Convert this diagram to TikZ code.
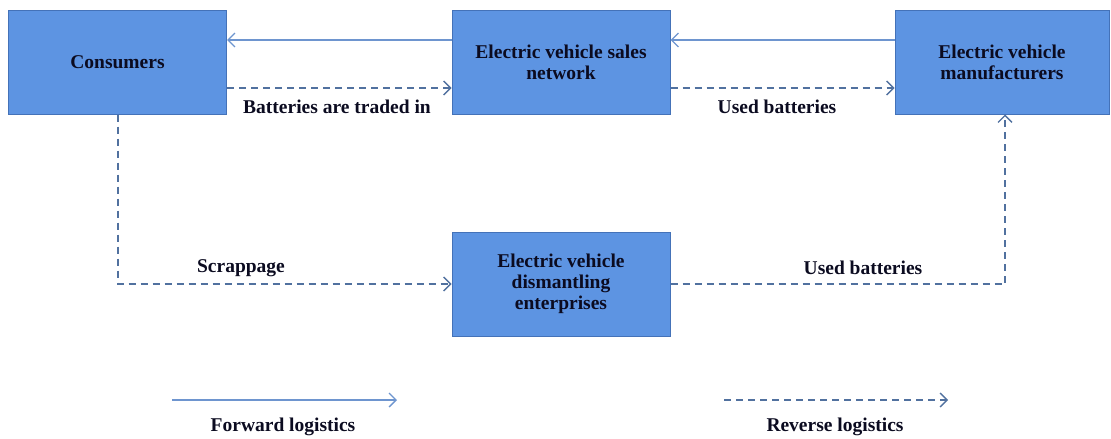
\documentclass[tikz,border=0pt]{standalone}
\usepackage{fontspec}
\setmainfont{Liberation Serif}
\usetikzlibrary{arrows.meta}
\definecolor{boxfill}{HTML}{5D94E2}
\definecolor{boxline}{HTML}{4472B8}
\definecolor{fwd}{HTML}{6E95CF}
\definecolor{rev}{HTML}{51719F}
\definecolor{txt}{HTML}{0B0B20}
\begin{document}
\begin{tikzpicture}[x=1pt,y=-1pt,
  box/.style={draw=boxline,line width=1pt,fill=boxfill,minimum width=218pt,minimum height=104pt,
    align=center,font=\fontsize{19.5}{21}\selectfont\bfseries,text=txt,inner sep=0pt},
  lbl/.style={font=\fontsize{19.5}{21}\selectfont\bfseries,text=txt,inner sep=0pt},
  fwdarrow/.style={draw=fwd,line width=1.3pt,-{Straight Barb[length=7pt,width=14pt]}},
  revarrow/.style={draw=rev,line width=1.3pt,dash pattern=on 7pt off 5pt,-{Straight Barb[length=7pt,width=14pt]}}]
\useasboundingbox (0,0) rectangle (1111,439);
\node[box] (cons) at (117.5,62) {Consumers};
\node[box] (sales) at (561,62) {Electric vehicle sales\\network};
\node[box,minimum width=214pt] (manu) at (1002,62) {Electric vehicle\\manufacturers};
\node[box] (dism) at (561,284) {Electric vehicle\\dismantling\\enterprises};
\draw[fwdarrow] (sales.west |- 0,40) -- (cons.east |- 0,40);
\draw[fwdarrow] (manu.west |- 0,40) -- (sales.east |- 0,40);
\draw[revarrow] (cons.east |- 0,88) -- (sales.west |- 0,88);
\draw[revarrow] (sales.east |- 0,88) -- (manu.west |- 0,88);
\draw[revarrow] (cons.south -| 118,0) -- (118,284) -- (dism.west);
\draw[revarrow] (dism.east) -- (1005,284) -- (manu.south -| 1005,0);
\node[lbl] (l1) at (337,107) {Batteries are traded in};
\node[lbl] (l2) at (777,107) {Used batteries};
\node[lbl] (l3) at (241,268) {Scrappage};
\node[lbl] (l4) at (863,268) {Used batteries};
\coordinate (fa) at (172,400);
\coordinate (fb) at (397,400);
\coordinate (ra) at (724,400);
\coordinate (rb) at (948,400);
\draw[fwdarrow] (fa) -- (fb);
\draw[revarrow] (ra) -- (rb);
\node[lbl] (l5) at (283,427) {Forward logistics};
\node[lbl] (l6) at (835,427) {Reverse logistics};
\end{tikzpicture}
\end{document}
